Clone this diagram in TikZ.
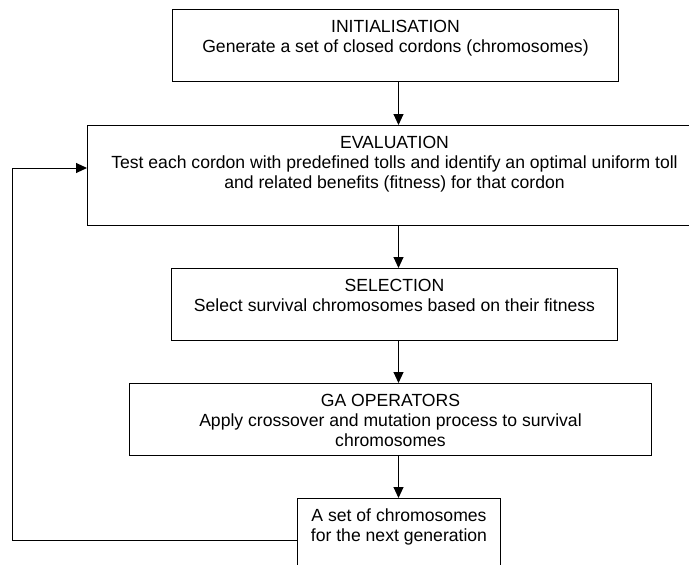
\documentclass[tikz,border=0pt]{standalone}
\usepackage{fontspec}
\setmainfont{Liberation Sans}
\usetikzlibrary{arrows.meta}
\newcommand\flowtext[3]{\parbox[c][#2][t]{#1}{\centering\fontsize{17.6pt}{20pt}\selectfont\rule{0pt}{23pt}#3\par}}
\begin{document}
\begin{tikzpicture}[x=1pt,y=-1pt,
  stepbox/.style={draw, line width=1pt, inner sep=0pt, anchor=north west},
  flow/.style={line width=1pt, -{Triangle[length=11pt,width=10pt]}},
]
\useasboundingbox (0,0) rectangle (689,565);
\clip (0,0) rectangle (689,565);
\node[stepbox] (ini) at (172,9) {\flowtext{446pt}{72pt}{INITIALISATION\\Generate a set of closed cordons (chromosomes)}};
\node[stepbox] (eva) at (87,125) {\flowtext{614pt}{100pt}{EVALUATION\\Test each cordon with predefined tolls and identify an optimal uniform toll\\and related benefits (fitness) for that cordon}};
\node[stepbox] (sel) at (171,268) {\flowtext{446pt}{72pt}{SELECTION\\Select survival chromosomes based on their fitness}};
\node[stepbox] (gao) at (129,383) {\flowtext{522pt}{72pt}{GA OPERATORS\\Apply crossover and mutation process to survival\\chromosomes}};
\node[stepbox] (nxt) at (297,498) {\flowtext{203pt}{84pt}{A set of chromosomes\\for the next generation}};
\coordinate (ax) at (398.5,0);
\coordinate (fb) at (12,168);
\draw[flow] (ax |- ini.south) -- (ax |- eva.north);
\draw[flow] (ax |- eva.south) -- (ax |- sel.north);
\draw[flow] (ax |- sel.south) -- (ax |- gao.north);
\draw[flow] (ax |- gao.south) -- (ax |- nxt.north);
\draw[flow] (nxt.west) -| (fb) -- (fb -| eva.west);
\end{tikzpicture}
\end{document}
